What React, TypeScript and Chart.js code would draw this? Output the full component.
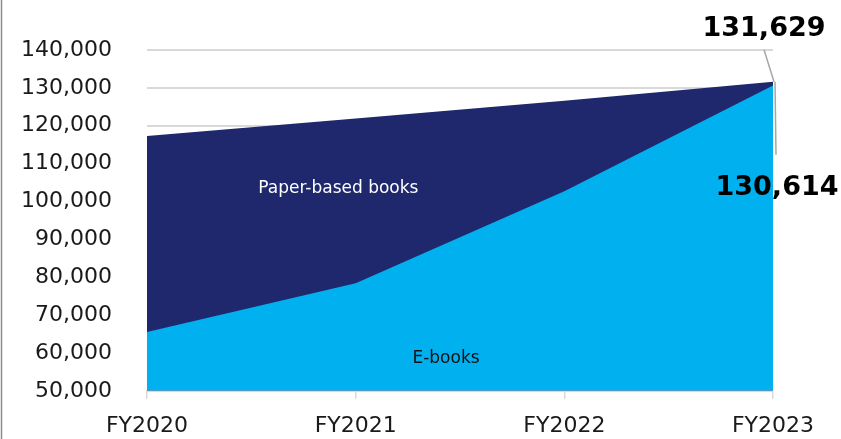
import React, { useEffect, useRef } from "react";
import { Chart, registerables } from "chart.js";

Chart.register(...registerables);

const categories = ["FY2020", "FY2021", "FY2022", "FY2023"];
const totalBooks = [117300, 121900, 126600, 131629];
const eBooks = [65500, 78400, 102700, 130614];
const yTicks = [50000, 60000, 70000, 80000, 90000, 100000, 110000, 120000, 130000, 140000];

const NAVY = "#1f286d";
const LIGHT = "#00b0ef";
const FONT = "'DejaVu Sans', Verdana, sans-serif";

const annotations = {
  id: "annotations",
  afterDraw(chart: any) {
    const ctx = chart.ctx;
    const x = chart.scales.x;
    const y = chart.scales.y;
    const last = categories.length - 1;
    const px = x.getPixelForValue(last);
    const pTop = y.getPixelForValue(totalBooks[last]);
    ctx.save();
    // left border
    ctx.strokeStyle = "#8c8c8c";
    ctx.lineWidth = 1.5;
    ctx.beginPath();
    ctx.moveTo(1.5, 0);
    ctx.lineTo(1.5, chart.height);
    ctx.stroke();
    // leader lines
    ctx.strokeStyle = "#a6a6a6";
    ctx.lineWidth = 1.5;
    ctx.beginPath();
    ctx.moveTo(px - 9, pTop - 32);
    ctx.lineTo(px + 1, pTop);
    ctx.stroke();
    ctx.beginPath();
    ctx.moveTo(px + 2, pTop);
    ctx.lineTo(px + 3, pTop + 73);
    ctx.stroke();
    // value labels
    ctx.fillStyle = "#000";
    ctx.font = `bold 27px ${FONT}`;
    ctx.textAlign = "center";
    ctx.textBaseline = "middle";
    ctx.fillText(totalBooks[last].toLocaleString("en-US"), px - 9, pTop - 53);
    ctx.fillText(eBooks[last].toLocaleString("en-US"), px + 4, pTop + 106);
    // series labels
    ctx.font = `17px ${FONT}`;
    ctx.fillStyle = "#ffffff";
    const xMid = (x.getPixelForValue(0) + x.getPixelForValue(1)) / 2 + 87;
    ctx.fillText("Paper-based books", xMid, y.getPixelForValue(103300));
    ctx.fillStyle = "#111111";
    ctx.fillText("E-books", (x.getPixelForValue(1) + x.getPixelForValue(2)) / 2 - 14, y.getPixelForValue(58500));
    ctx.restore();
  },
};

export default function App() {
  const ref = useRef<HTMLCanvasElement | null>(null);
  useEffect(() => {
    const chart = new Chart(ref.current as HTMLCanvasElement, {
      type: "line",
      data: {
        labels: categories,
        datasets: [
          {
            label: "Paper-based books",
            data: totalBooks,
            backgroundColor: NAVY,
            borderWidth: 0,
            pointRadius: 0,
            fill: "start",
            order: 1,
          },
          {
            label: "E-books",
            data: eBooks,
            backgroundColor: LIGHT,
            borderWidth: 0,
            pointRadius: 0,
            fill: "start",
            order: 0,
          },
        ],
      },
      options: {
        animation: false,
        responsive: false,
        maintainAspectRatio: false,
        layout: { padding: { top: 50, right: 68, left: 0, bottom: 0 } },
        plugins: { legend: { display: false }, tooltip: { enabled: false }, title: { display: false } },
        scales: {
          x: {
            offset: false,
            grid: { drawOnChartArea: false, drawTicks: true, tickLength: 8, color: "#d9d9d9", lineWidth: 1.5 },
            border: { display: true, color: "#d9d9d9", width: 2 },
            ticks: { color: "#1a1a1a", font: { family: FONT, size: 22 }, padding: 14, maxRotation: 0 },
            afterFit: (s: any) => { s.height = 47; },
          },
          y: {
            min: 50000,
            max: 140000,
            afterBuildTicks: (s: any) => { s.ticks = yTicks.map((v) => ({ value: v })); },
            grid: { drawTicks: false, color: "#d9d9d9", lineWidth: 2 },
            border: { display: false },
            ticks: {
              color: "#1a1a1a",
              font: { family: FONT, size: 22 },
              padding: 35,
              callback: (v: any) => Number(v).toLocaleString("en-US"),
            },
            afterFit: (s: any) => { s.width = 147; },
          },
        },
      },
      plugins: [annotations],
    });
    return () => chart.destroy();
  }, []);
  return (
    <div style={{ position: "fixed", left: 0, top: 0, width: 841, height: 439, background: "#fff" }}>
      <canvas ref={ref} width={841} height={439} style={{ display: "block", width: 841, height: 439 }} />
    </div>
  );
}
